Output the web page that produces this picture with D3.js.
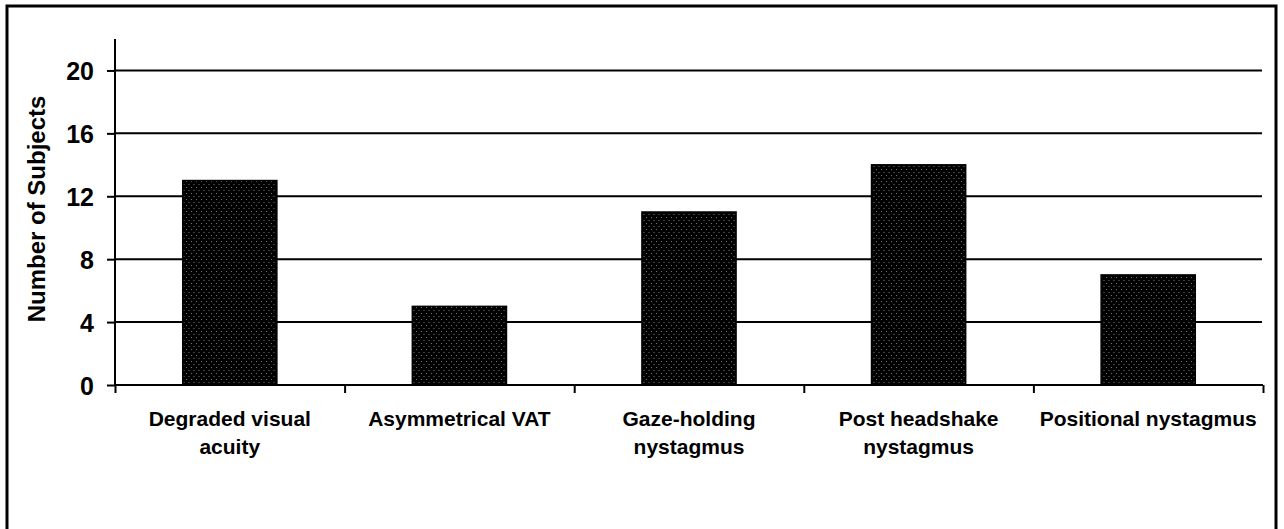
<!DOCTYPE html>
<html>
<head>
<meta charset="utf-8">
<script src="https://cdn.jsdelivr.net/npm/d3@7"></script>
<style>
  body { margin: 0; background: #fff; }
  text { font-family: "Liberation Sans", Arial, sans-serif; font-weight: bold; fill: #000; }
</style>
</head>
<body>
<div id="chart"></div>
<script>
const categories = [
    ["Degraded visual", "acuity"],
    ["Asymmetrical VAT"],
    ["Gaze-holding", "nystagmus"],
    ["Post headshake", "nystagmus"],
    ["Positional nystagmus"]
];
const values = [13, 5, 11, 14, 7];
const yTicks = [0, 4, 8, 12, 16, 20];

const width = 1284, height = 529;
const plotLeft = 115, plotRight = 1263, plotTop = 39, plotBottom = 385;

const svg = d3.select("#chart").append("svg")
    .attr("width", width)
    .attr("height", height);

// dotted fill for the bars
const pat = svg.append("defs").append("pattern")
    .attr("id", "dots")
    .attr("patternUnits", "userSpaceOnUse")
    .attr("width", 5)
    .attr("height", 6);
pat.append("rect").attr("width", 5).attr("height", 6).attr("fill", "#000");
pat.append("rect").attr("x", 1).attr("y", 1).attr("width", 1).attr("height", 1).attr("fill", "#777");
pat.append("rect").attr("x", 3.5).attr("y", 4).attr("width", 1).attr("height", 1).attr("fill", "#777");

// outer frame
svg.append("rect")
    .attr("x", 7).attr("y", 6)
    .attr("width", 1269).attr("height", 540)
    .attr("fill", "none")
    .attr("stroke", "#000")
    .attr("stroke-width", 3);

const x = d3.scaleBand()
    .domain(d3.range(categories.length))
    .range([plotLeft, plotRight])
    .paddingInner(0.59)
    .paddingOuter(0.295);

const y = d3.scaleLinear()
    .domain([0, 22])
    .range([plotBottom, plotTop]);

// gridlines
svg.append("g")
    .selectAll("line")
    .data(yTicks.filter(d => d > 0))
    .join("line")
    .attr("x1", plotLeft).attr("x2", plotRight - 1)
    .attr("y1", d => y(d)).attr("y2", d => y(d))
    .attr("stroke", "#000")
    .attr("stroke-width", 2);

// bars
svg.append("g")
    .selectAll("rect")
    .data(values)
    .join("rect")
    .attr("x", (d, i) => x(i))
    .attr("y", d => y(d))
    .attr("width", x.bandwidth())
    .attr("height", d => y(0) - y(d))
    .attr("fill", "url(#dots)")
    .attr("stroke", "#000")
    .attr("stroke-width", 1.5);

// y axis
const yAxis = svg.append("g")
    .attr("transform", `translate(${plotLeft},0)`)
    .call(d3.axisLeft(y).tickValues(yTicks).tickSize(8).tickPadding(13));
yAxis.select(".domain").attr("d", `M0,${plotTop}V${plotBottom}`).attr("stroke-width", 2);
yAxis.selectAll(".tick line").attr("stroke-width", 2);
yAxis.selectAll(".tick text")
    .attr("font-size", 25)
    .attr("dy", "0.36em")
    .style("font-family", "'Liberation Sans', Arial, sans-serif");

// x axis with ticks at category boundaries
const xb = d3.scaleLinear().domain([0, categories.length]).range([plotLeft, plotRight]);
const xAxis = svg.append("g")
    .attr("transform", `translate(0,${plotBottom})`)
    .call(d3.axisBottom(xb).tickValues(d3.range(categories.length + 1)).tickSize(8).tickFormat(""));
xAxis.select(".domain").attr("d", `M${plotLeft},0H${plotRight}`).attr("stroke-width", 2);
xAxis.selectAll(".tick line").attr("stroke-width", 2);

// category labels
svg.append("g")
    .selectAll("text")
    .data(categories)
    .join("text")
    .attr("x", (d, i) => x(i) + x.bandwidth() / 2)
    .attr("y", 426)
    .attr("text-anchor", "middle")
    .attr("font-size", 21)
    .selectAll("tspan")
    .data(d => d)
    .join("tspan")
    .attr("x", function () { return this.parentNode.getAttribute("x"); })
    .attr("dy", (d, i) => i === 0 ? 0 : 28)
    .text(d => d);

// y axis title
svg.append("text")
    .attr("transform", `translate(45,${(plotTop + plotBottom) / 2 - 3}) rotate(-90)`)
    .attr("text-anchor", "middle")
    .attr("font-size", 24)
    .text("Number of Subjects");
</script>
</body>
</html>
